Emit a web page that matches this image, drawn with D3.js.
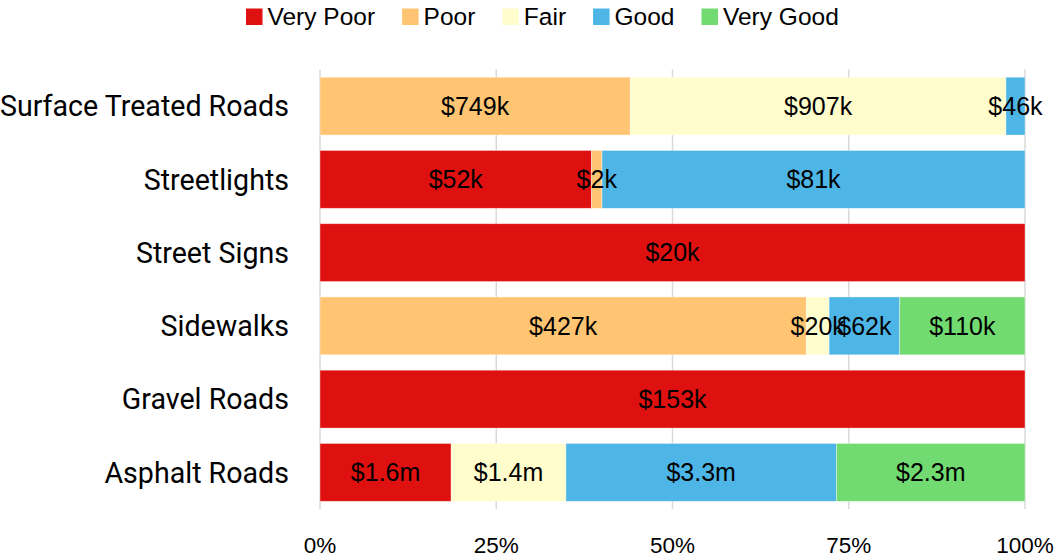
<!DOCTYPE html>
<html>
<head>
<meta charset="utf-8">
<script src="https://cdn.jsdelivr.net/npm/d3@7"></script>
<style>
  body { margin: 0; background: #fff; }
  svg { display: block; }
</style>
</head>
<body>
<svg id="chart" width="1055" height="558"></svg>
<script>
// categories top to bottom
const categories = ["Surface Treated Roads", "Streetlights", "Street Signs", "Sidewalks", "Gravel Roads", "Asphalt Roads"]
const conditions = ["Very Poor", "Poor", "Fair", "Good", "Very Good"]
// replacement values in $ thousands, one array per condition (same order as categories)
const veryPoor = [0, 52, 20, 0, 153, 1600]
const poor = [749, 2, 0, 427, 0, 0]
const fair = [907, 0, 0, 20, 0, 1400]
const good = [46, 81, 0, 62, 0, 3300]
const veryGood = [0, 0, 0, 110, 0, 2300]
const tickValues = [0, 0.25, 0.5, 0.75, 1]
const colors = ["#DF1010", "#FFC572", "#FFFDCC", "#4EB6E6", "#71DB71"]

const series = [veryPoor, poor, fair, good, veryGood]

// build rows for d3.stack
const rows = categories.map((c, i) => {
    let row = { category: c }
    conditions.forEach((k, j) => row[k] = series[j][i])
    return row
})

const margin = { top: 69.5, right: 30, bottom: 49, left: 320 }
const width = 1055 - margin.left - margin.right
const height = 558 - margin.top - margin.bottom

const stack = d3.stack().keys(conditions).offset(d3.stackOffsetExpand)
const layers = stack(rows)

const x = d3.scaleLinear().domain([0, 1]).range([0, width])
const y = d3.scaleBand().domain(categories).range([0, height]).paddingInner(0.21).paddingOuter(0.105)
const color = d3.scaleOrdinal().domain(conditions).range(colors)

const svg = d3.select("#chart")
const g = svg.append("g").attr("transform", `translate(${margin.left},${margin.top})`)

// vertical gridlines
g.selectAll(".grid")
    .data(tickValues)
    .join("line")
    .attr("class", "grid")
    .attr("x1", d => x(d)).attr("x2", d => x(d))
    .attr("y1", 0).attr("y2", height)
    .attr("stroke", "#d9d9d9")
    .attr("stroke-width", 1.5)

// tick labels
g.selectAll(".tick-label")
    .data(tickValues)
    .join("text")
    .attr("class", "tick-label")
    .attr("x", d => x(d))
    .attr("y", height + 44)
    .attr("text-anchor", "middle")
    .attr("font-family", "'Liberation Sans', Arial, sans-serif")
    .attr("font-size", 22.5)
    .attr("fill", "#000")
    .text(d3.format(".0%"))

// category labels
g.selectAll(".cat")
    .data(categories)
    .join("text")
    .attr("class", "cat")
    .attr("x", -31)
    .attr("y", d => y(d) + y.bandwidth() / 2)
    .attr("dy", "0.36em")
    .attr("text-anchor", "end")
    .attr("font-family", "Roboto, sans-serif")
    .attr("font-size", 28.6)
    .attr("fill", "#000")
    .text(d => d)

const fmt = v => v >= 1000 ? "$" + (v / 1000).toFixed(1) + "m" : "$" + v + "k"

// bars
const layer = g.selectAll(".layer")
    .data(layers)
    .join("g")
    .attr("class", "layer")
    .attr("fill", d => color(d.key))

layer.selectAll("rect")
    .data(d => d.filter(s => s.data[d.key] > 0))
    .join("rect")
    .attr("x", d => x(d[0]))
    .attr("y", d => y(d.data.category))
    .attr("width", d => x(d[1]) - x(d[0]))
    .attr("height", y.bandwidth())
    .attr("stroke", "#fff")
    .attr("stroke-opacity", 0.5)
    .attr("stroke-width", 0.75)

// data labels
layers.forEach(l => {
    g.selectAll(null)
        .data(l.filter(s => s.data[l.key] > 0))
        .join("text")
        .attr("x", d => (x(d[0]) + x(d[1])) / 2)
        .attr("y", d => y(d.data.category) + y.bandwidth() / 2)
        .attr("dy", "0.35em")
        .attr("text-anchor", "middle")
        .attr("font-family", "'Liberation Sans', Arial, sans-serif")
        .attr("font-size", 25)
        .attr("fill", "#000")
        .text(d => fmt(d.data[l.key]))
})

// legend
const legend = svg.append("g").attr("transform", "translate(246,0)")
let lx = 0
conditions.forEach((k, i) => {
    const item = legend.append("g").attr("transform", `translate(${lx},0)`)
    item.append("rect")
        .attr("x", 0).attr("y", 8.5)
        .attr("width", 16.5).attr("height", 16.5)
        .attr("fill", color(k))
    const t = item.append("text")
        .attr("x", 21.5).attr("y", 25)
        .attr("font-family", "'Liberation Sans', Arial, sans-serif")
        .attr("font-size", 24.5)
        .attr("fill", "#000")
        .text(k)
    lx += 21.5 + t.node().getComputedTextLength() + 27
})
</script>
</body>
</html>
